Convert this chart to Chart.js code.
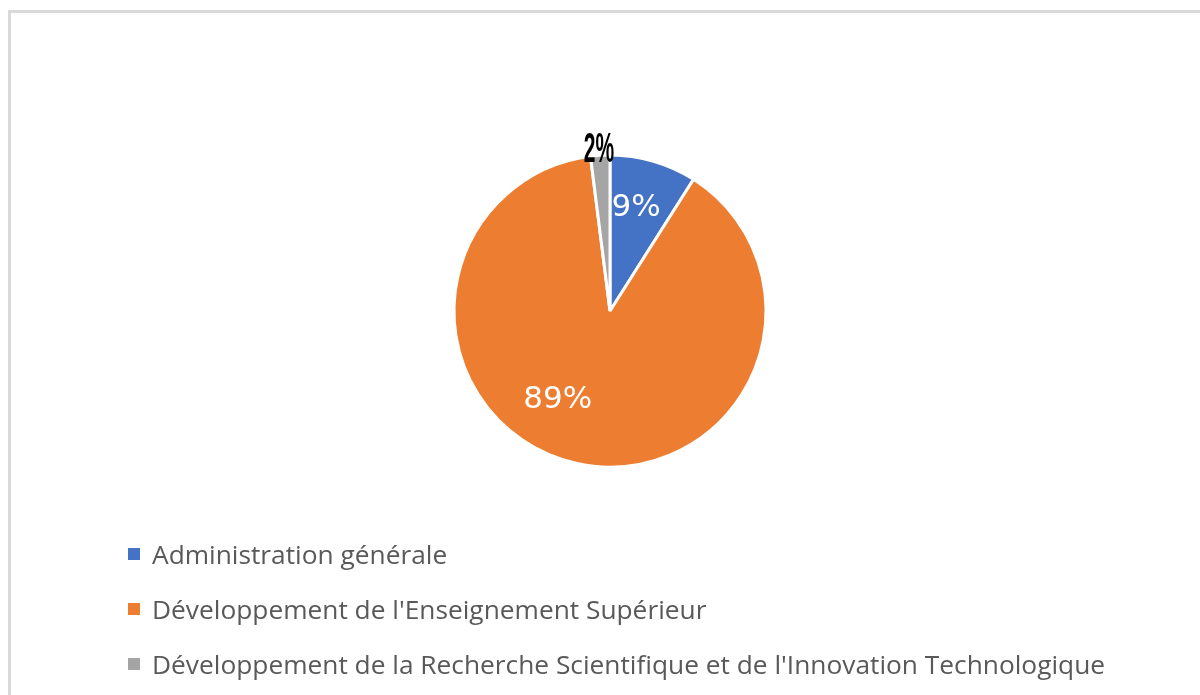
<!DOCTYPE html>
<html lang="fr">
<head>
<meta charset="utf-8">
<title>Répartition par programme</title>
<script src="https://cdn.jsdelivr.net/npm/chart.js@4.4.1/dist/chart.umd.min.js"></script>
<style>
    html, body { margin: 0; padding: 0; background: #fff; }
    body { width: 1200px; height: 695px; position: relative; overflow: hidden; }
    .frame {
        position: absolute; left: 8px; top: 10px;
        width: 1300px; height: 800px;
        border: 3px solid #d9d9d9; box-sizing: border-box;
    }
    #wrap { position: absolute; left: 0; top: 0; width: 1200px; height: 695px; }
    #legend {
        position: absolute; left: 128px; top: 526px;
        list-style: none; margin: 0; padding: 0;
        font-family: "Open Sans", "Noto Sans", sans-serif;
        font-size: 26.3px; color: #595959; white-space: nowrap;
    }
    #legend li { height: 55px; display: flex; align-items: center; }
    #legend .box { width: 12px; height: 12px; margin-right: 12px; flex: none; }
</style>
</head>
<body>
<div class="frame"></div>
<div id="wrap"><canvas id="pie-chart"></canvas></div>
<ul id="legend"></ul>

<script>
// Data
const labels = [
    'Administration générale',
    'Développement de l\'Enseignement Supérieur',
    'Développement de la Recherche Scientifique et de l\'Innovation Technologique'
];
const shares = [9, 89, 2];
const colors = ['#4472c4', '#ed7d31', '#a5a5a5'];

// Percentage labels drawn on / next to each slice
const sliceLabels = {
    id: 'sliceLabels',
    afterDatasetsDraw(chart, args, opts) {
        const ctx = chart.ctx;
        const meta = chart.getDatasetMeta(0);
        const total = shares.reduce((a, b) => a + b, 0);

        meta.data.forEach((arc, i) => {
            const p = arc.getProps(['x', 'y', 'startAngle', 'endAngle', 'outerRadius'], true);
            const place = opts.place[i];
            const angle = p.startAngle + (p.endAngle - p.startAngle) * place.at;
            const r = p.outerRadius * place.r;
            const lx = p.x + Math.cos(angle) * r;
            const ly = p.y + Math.sin(angle) * r;
            const text = Math.round(shares[i] / total * 100) + '%';

            ctx.save();
            ctx.textAlign = 'center';
            ctx.textBaseline = 'middle';
            if (place.outside) {
                // small slice: bold black, squeezed label outside the pie
                ctx.translate(lx, ly);
                ctx.scale(0.5, 1);
                ctx.font = 'bold 42px "Liberation Sans", Arial, sans-serif';
                ctx.fillStyle = '#000';
                ctx.fillText(text, 0, 0);
            } else {
                ctx.font = '31px "DejaVu Sans", sans-serif';
                ctx.fillStyle = '#fff';
                ctx.fillText(text, lx, ly);
            }
            ctx.restore();
        });
    }
};

const chart = new Chart(document.getElementById('pie-chart'), {
    type: 'pie',
    data: {
        labels: labels,
        datasets: [{
            data: shares,
            backgroundColor: colors,
            borderColor: '#ffffff',
            borderWidth: 3
        }]
    },
    options: {
        responsive: true,
        maintainAspectRatio: false,
        animation: false,
        radius: 156,
        layout: {
            padding: { left: 300, right: 280, top: 156, bottom: 229 }
        },
        plugins: {
            legend: { display: false },
            tooltip: { enabled: false },
            sliceLabels: {
                place: [
                    { at: 0.44, r: 0.68 },
                    { at: 0.556, r: 0.66 },
                    { at: 0.45, r: 1.03, outside: true }
                ]
            }
        }
    },
    plugins: [sliceLabels]
});

// HTML legend, one item per line
const legendEl = document.getElementById('legend');
chart.data.labels.forEach((label, i) => {
    const li = document.createElement('li');
    const box = document.createElement('span');
    box.className = 'box';
    box.style.background = colors[i];
    li.appendChild(box);
    li.appendChild(document.createTextNode(label));
    legendEl.appendChild(li);
});
</script>
</body>
</html>
